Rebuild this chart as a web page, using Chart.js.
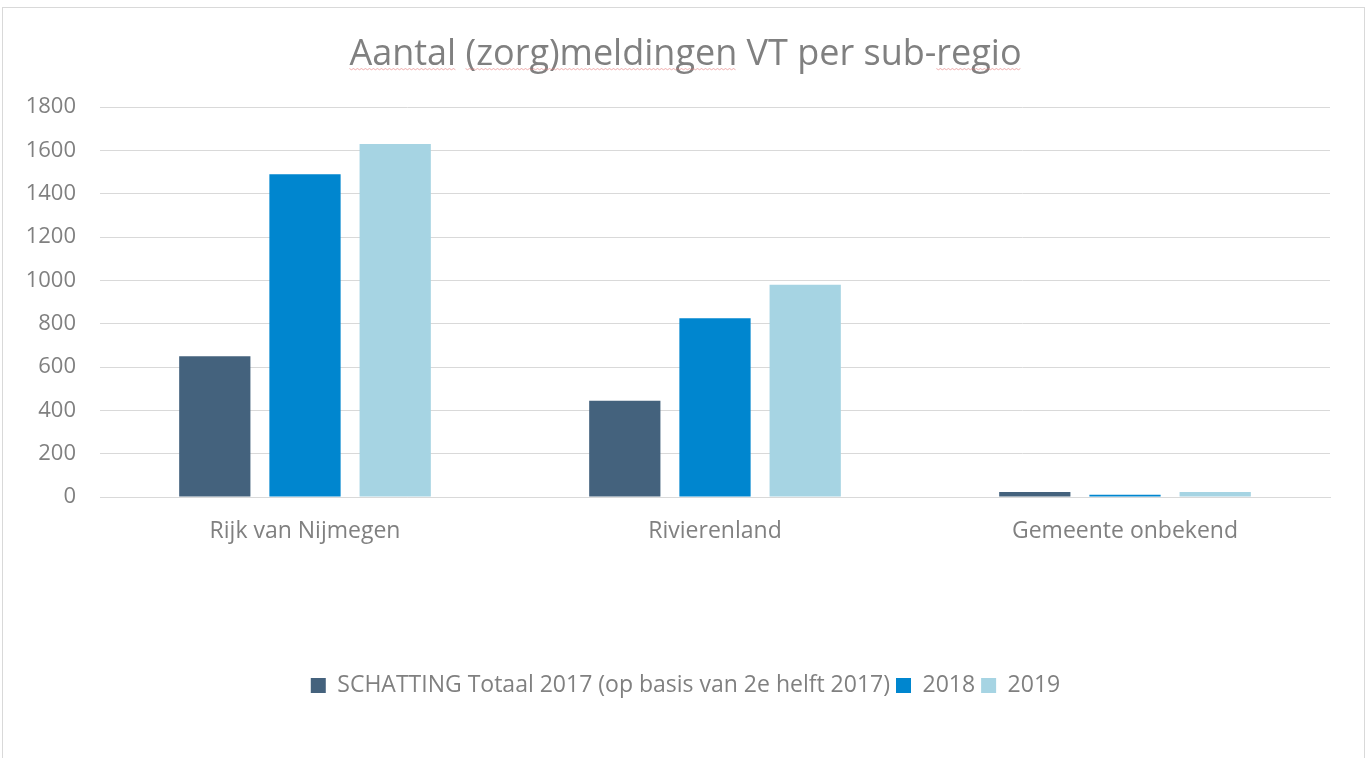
<!DOCTYPE html>
<html>
<head>
<meta charset="utf-8">
<script src="https://cdn.jsdelivr.net/npm/chart.js@4.4.0/dist/chart.umd.min.js"></script>
<style>
  html, body { margin: 0; padding: 0; background: #fff; }
  #wrap { position: relative; width: 1371px; height: 758px; }
  #frame { position: absolute; left: 2px; top: 7px; width: 1363px; height: 760px; border: 1px solid #d9d9d9; box-sizing: border-box; }
  canvas { position: absolute; left: 0; top: 0; }
</style>
</head>
<body>
<div id="wrap">
  <div id="frame"></div>
  <canvas id="chart" width="1371" height="758"></canvas>
</div>
<script>
// data
const regios = ['Rijk van Nijmegen', 'Rivierenland', 'Gemeente onbekend'];
const schatting2017 = [650, 445, 23];
const jaar2018 = [1490, 826, 10];
const jaar2019 = [1630, 980, 23];
const reeksNamen = ['SCHATTING Totaal 2017 (op basis van 2e helft 2017)', '2018', '2019'];
const titelTekst = 'Aantal (zorg)meldingen VT per sub-regio';
const onderstreept = ['Aantal', '(zorg)meldingen', 'regio']; // spellcheck-kronkels in het origineel

const tekstGrijs = '#808080';
const lettertype = "'Open Sans', 'Noto Sans', sans-serif";
const titelGrootte = 36;

// rode kronkellijntjes onder de titelwoorden
const kronkelPlugin = {
    id: 'kronkels',
    afterDraw(chart) {
        const blok = chart.titleBlock;
        if (!blok) return;
        const c = chart.ctx;
        c.save();
        c.font = `${titelGrootte}px ${lettertype}`;
        const totaal = c.measureText(titelTekst).width;
        const start = (blok.left + blok.right - totaal) / 2;
        const midden = blok.top + blok.options.padding.top + titelGrootte * 1.2 / 2;
        const y = midden + titelGrootte * 0.36 + 1;
        c.strokeStyle = 'rgba(230, 110, 110, 0.55)';
        c.lineWidth = 1;
        onderstreept.forEach(woord => {
            const idx = titelTekst.indexOf(woord);
            const x0 = start + c.measureText(titelTekst.slice(0, idx)).width;
            const x1 = x0 + c.measureText(woord).width;
            c.beginPath();
            let op = true;
            for (let x = x0; x <= x1; x += 2) {
                c.lineTo(x, y + (op ? 0 : 1.2));
                op = !op;
            }
            c.stroke();
        });
        c.restore();
    }
};

const ctx = document.getElementById('chart').getContext('2d');
new Chart(ctx, {
    type: 'bar',
    data: {
        labels: regios,
        datasets: [
            { label: reeksNamen[0], data: schatting2017, backgroundColor: '#44627d' },
            { label: reeksNamen[1], data: jaar2018, backgroundColor: '#0086cf' },
            { label: reeksNamen[2], data: jaar2019, backgroundColor: '#a6d4e3' }
        ]
    },
    plugins: [kronkelPlugin],
    options: {
        responsive: false,
        animation: false,
        devicePixelRatio: 1,
        categoryPercentage: 0.66,
        barPercentage: 0.79,
        layout: { padding: { left: 0, right: 0, top: 0, bottom: 51 } },
        plugins: {
            title: {
                display: true,
                text: titelTekst,
                color: tekstGrijs,
                font: { family: lettertype, size: titelGrootte, weight: 'normal' },
                padding: { top: 33, bottom: 31 }
            },
            legend: {
                position: 'bottom',
                labels: {
                    color: tekstGrijs,
                    font: { family: lettertype, size: 23 },
                    boxWidth: 15,
                    boxHeight: 15,
                    padding: 6
                }
            },
            tooltip: { enabled: false }
        },
        scales: {
            y: {
                min: 0,
                max: 1800,
                ticks: {
                    stepSize: 200,
                    color: tekstGrijs,
                    padding: 24,
                    font: { family: lettertype, size: 22 },
                    callback: (v) => String(v)
                },
                grid: { color: '#d9d9d9', drawTicks: false },
                border: { display: false },
                afterFit: (scale) => { scale.width = 100; }
            },
            // lege as rechts, alleen als witruimte
            rechts: {
                position: 'right',
                ticks: { display: false },
                grid: { display: false, drawTicks: false },
                border: { display: false },
                afterFit: (scale) => { scale.width = 41; }
            },
            x: {
                grid: { display: false, drawTicks: false },
                border: { color: '#d9d9d9', width: 1 },
                ticks: { color: tekstGrijs, padding: 21, font: { family: lettertype, size: 23 } },
                afterFit: (scale) => { scale.height = 171; }
            }
        }
    }
});
</script>
</body>
</html>
